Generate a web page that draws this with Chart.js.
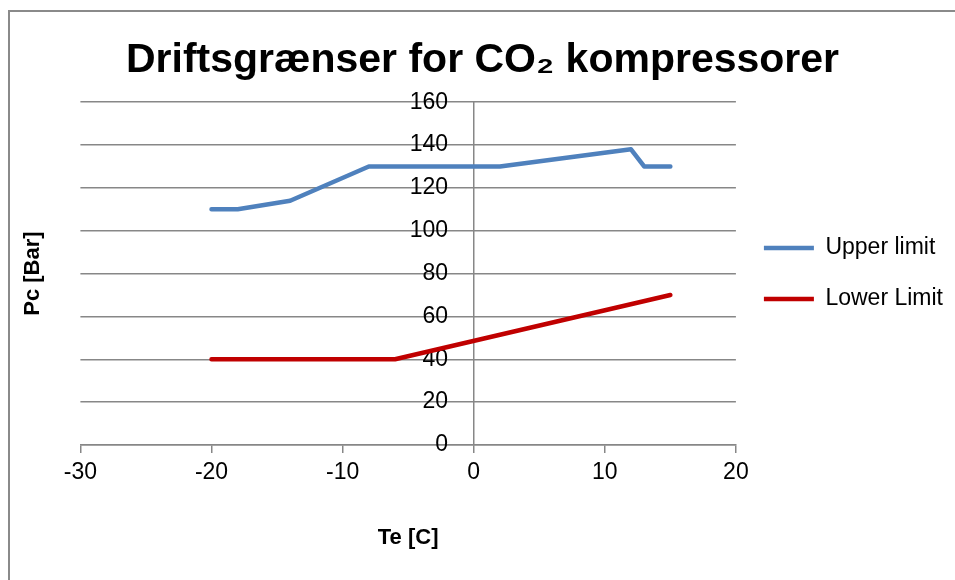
<!DOCTYPE html>
<html>
<head>
<meta charset="utf-8">
<script src="https://cdn.jsdelivr.net/npm/chart.js@4/dist/chart.umd.min.js"></script>
<style>
  body { margin: 0; background: #fff; }
</style>
</head>
<body>
<canvas id="driftChart" width="955" height="580"></canvas>
<script>
// Driftsgrænser for CO2 kompressorer

const upperTe = [-20, -18, -14, -8, 2, 12, 13, 15];
const upperPc = [110, 110, 114, 130, 130, 138, 130, 130];
const lowerTe = [-20, -6, 15];
const lowerPc = [40, 40, 70];
const xTicks = [-30, -20, -10, 0, 10, 20];
const yTicks = [0, 20, 40, 60, 80, 100, 120, 140, 160];

const grey = '#878787';
const font = 'Liberation Sans';

function points(xs, ys) {
    return xs.map((x, i) => ({ x: x, y: ys[i] }));
}

// cadre gris autour du graphique
const frame = {
    id: 'frame',
    beforeDraw(chart) {
        const c = chart.ctx;
        c.save();
        c.fillStyle = '#fff';
        c.fillRect(0, 0, chart.width, chart.height);
        c.strokeStyle = '#8a8a8a';
        c.lineWidth = 2;
        c.beginPath();
        c.moveTo(9, chart.height);
        c.lineTo(9, 11);
        c.lineTo(chart.width, 11);
        c.stroke();
        c.restore();
    }
};

const ctx = document.getElementById('driftChart').getContext('2d');

const driftChart = new Chart(ctx, {
    type: 'scatter',
    data: {
        datasets: [{
            label: 'Upper limit',
            data: points(upperTe, upperPc),
            borderColor: '#4F81BD',
            backgroundColor: '#4F81BD',
            showLine: true,
            borderWidth: 4.5,
            borderCapStyle: 'round',
            borderJoinStyle: 'round',
            pointRadius: 0,
            pointHoverRadius: 0
        }, {
            label: 'Lower Limit',
            data: points(lowerTe, lowerPc),
            borderColor: '#C00000',
            backgroundColor: '#C00000',
            showLine: true,
            borderWidth: 4.5,
            borderCapStyle: 'round',
            borderJoinStyle: 'round',
            pointRadius: 0,
            pointHoverRadius: 0
        }]
    },
    options: {
        responsive: false,
        animation: false,
        layout: {
            padding: { left: 12, right: 2, top: 0, bottom: 25 }
        },
        scales: {
            x: {
                type: 'linear',
                position: 'bottom',
                min: -30,
                max: 20,
                afterBuildTicks: (s) => { s.ticks = xTicks.map(v => ({ value: v })); },
                ticks: {
                    font: { family: font, size: 23 },
                    color: '#000',
                    padding: 6
                },
                grid: {
                    drawOnChartArea: false,
                    drawTicks: true,
                    tickLength: 8,
                    color: grey,
                    lineWidth: 1.5
                },
                border: { display: true, color: grey, width: 1.5 },
                title: {
                    display: true,
                    text: 'Te [C]',
                    font: { family: font, size: 22, weight: 'bold' },
                    color: '#000',
                    padding: { top: 32, bottom: 4 }
                }
            },
            y: {
                type: 'linear',
                position: { x: 0 },
                min: 0,
                max: 160,
                afterBuildTicks: (s) => { s.ticks = yTicks.map(v => ({ value: v })); },
                ticks: {
                    font: { family: font, size: 23 },
                    color: '#000',
                    callback: (v) => v + '    '
                },
                grid: {
                    drawTicks: false,
                    color: grey,
                    lineWidth: 1.5
                },
                border: { display: true, color: grey, width: 1.5 }
            },
            yTitle: {
                type: 'linear',
                position: 'left',
                min: 0,
                max: 1,
                ticks: { display: false },
                grid: { display: false, drawTicks: false },
                border: { display: false },
                title: {
                    display: true,
                    text: 'Pc [Bar]',
                    font: { family: font, size: 22, weight: 'bold' },
                    color: '#000',
                    padding: { top: 8, bottom: 34 }
                }
            }
        },
        plugins: {
            title: {
                display: true,
                text: 'Driftsgrænser for CO₂ kompressorer',
                font: { family: font, size: 41, weight: 'bold' },
                color: '#000',
                padding: { top: 36, bottom: 17 }
            },
            legend: {
                position: 'right',
                fullSize: false,
                maxWidth: 260,
                labels: {
                    usePointStyle: true,
                    pointStyle: 'line',
                    pointStyleWidth: 50,
                    padding: 28,
                    color: '#000',
                    font: { family: font, size: 23 }
                }
            },
            tooltip: { enabled: false }
        }
    },
    plugins: [frame]
});
</script>
</body>
</html>
